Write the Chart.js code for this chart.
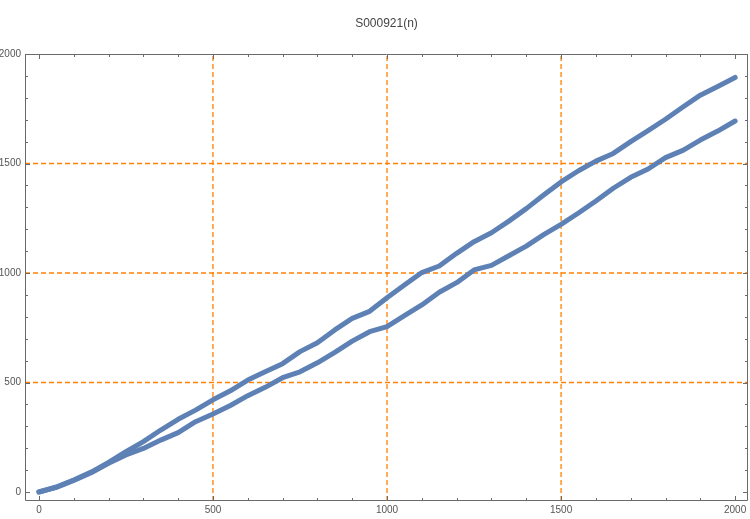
<!DOCTYPE html>
<html>
<head>
<meta charset="utf-8">
<script src="https://cdn.jsdelivr.net/npm/chart.js@4/dist/chart.umd.min.js"></script>
<style>
  html, body { margin: 0; padding: 0; background: #fff; }
  #wrap { width: 750px; height: 519px; position: relative; }
</style>
</head>
<body>
<div id="wrap"><canvas id="c" width="750" height="519"></canvas></div>
<script>
// ---- data ----
const titleText = "S000921(n)";
const nValues = [0, 50, 100, 150, 200, 250, 300, 350, 400, 450, 500, 550, 600, 650, 700, 750, 800, 850, 900, 950,
                 1000, 1050, 1100, 1150, 1200, 1250, 1300, 1350, 1400, 1450, 1500, 1550, 1600, 1650, 1700, 1750,
                 1800, 1850, 1900, 1950, 2000];
const upperBranch = [0, 23, 55, 91, 135, 184, 230, 283, 332, 374, 421, 462, 511, 549, 586, 641, 682, 740, 793, 825,
                     887, 945, 1002, 1032, 1090, 1143, 1184, 1237, 1294, 1356, 1416, 1467, 1511, 1546, 1600, 1650,
                     1702, 1758, 1812, 1852, 1893];
const lowerBranch = [0, 21, 53, 88, 131, 169, 199, 237, 271, 321, 356, 395, 440, 478, 522, 549, 590, 638, 689, 732,
                     755, 805, 854, 912, 956, 1014, 1035, 1079, 1123, 1175, 1222, 1274, 1329, 1387, 1437, 1475,
                     1527, 1560, 1607, 1648, 1694];
const xMajorTicks = [0, 500, 1000, 1500, 2000];
const yMajorTicks = [0, 500, 1000, 1500, 2000];
const xMinorTicks = [100, 200, 300, 400, 600, 700, 800, 900, 1100, 1200, 1300, 1400, 1600, 1700, 1800, 1900];
const yMinorTicks = [100, 200, 300, 400, 600, 700, 800, 900, 1100, 1200, 1300, 1400, 1600, 1700, 1800, 1900];
const gridValues = [500, 1000, 1500];

const toPoints = (ys) => nValues.map((n, i) => ({x: n, y: ys[i]}));

const BLUE = '#5e81b5';
const ORANGE = 'rgb(255,128,0)';
const FRAME = '#6a6a6a';
const FONT = 'Liberation Sans, Arial, sans-serif';

const gridPlugin = {
  id: 'orangeGrid',
  beforeDatasetsDraw(chart) {
    const {ctx, chartArea: a, scales: {x, y}} = chart;
    ctx.save();
    ctx.strokeStyle = ORANGE;
    ctx.lineWidth = 1.3;
    ctx.setLineDash([5, 3]);
    gridValues.forEach(v => {
      const px = x.getPixelForValue(v);
      const py = y.getPixelForValue(v);
      ctx.beginPath();
      ctx.moveTo(px, a.bottom); ctx.lineTo(px, a.top);
      ctx.stroke();
      ctx.beginPath();
      ctx.moveTo(a.left, py); ctx.lineTo(a.right, py);
      ctx.stroke();
    });
    ctx.restore();
  }
};

const framePlugin = {
  id: 'frame',
  afterDatasetsDraw(chart) {
    const {ctx, chartArea: a, scales: {x, y}} = chart;
    ctx.save();
    ctx.strokeStyle = FRAME;
    ctx.lineWidth = 1;
    ctx.setLineDash([]);
    ctx.beginPath();
    ctx.rect(Math.round(a.left) + 0.5, Math.round(a.top) + 0.5,
             Math.round(a.right - a.left) - 1, Math.round(a.bottom - a.top) - 1);
    ctx.stroke();
    const tick = (vals, len) => {
      vals.forEach(v => {
        const px = Math.round(x.getPixelForValue(v)) + 0.5;
        ctx.moveTo(px, a.bottom); ctx.lineTo(px, a.bottom - len);
        ctx.moveTo(px, a.top); ctx.lineTo(px, a.top + len);
      });
    };
    const ytick = (vals, len) => {
      vals.forEach(v => {
        const py = Math.round(y.getPixelForValue(v)) + 0.5;
        ctx.moveTo(a.left, py); ctx.lineTo(a.left + len, py);
        ctx.moveTo(a.right, py); ctx.lineTo(a.right - len, py);
      });
    };
    ctx.beginPath();
    tick(xMajorTicks, 5);
    tick(xMinorTicks, 3);
    ytick(yMajorTicks, 5);
    ytick(yMinorTicks, 3);
    ctx.stroke();
    ctx.restore();
  }
};

new Chart(document.getElementById('c'), {
  type: 'line',
  data: {
    datasets: [
      {data: toPoints(upperBranch), borderColor: BLUE, borderWidth: 5, pointRadius: 0,
       borderCapStyle: 'round', borderJoinStyle: 'round', tension: 0},
      {data: toPoints(lowerBranch), borderColor: BLUE, borderWidth: 5, pointRadius: 0,
       borderCapStyle: 'round', borderJoinStyle: 'round', tension: 0}
    ]
  },
  options: {
    responsive: false,
    animation: false,
    events: [],
    layout: {padding: {left: 0, right: 2, top: 0, bottom: 0}},
    plugins: {
      legend: {display: false},
      tooltip: {enabled: false},
      title: {
        display: true, text: titleText, color: '#444', fullSize: false,
        font: {family: FONT, size: 12, weight: 'normal'},
        padding: {top: 16, bottom: 23.6}
      }
    },
    scales: {
      x: {
        type: 'linear', min: -40, max: 2037,
        afterBuildTicks: s => { s.ticks = xMajorTicks.map(v => ({value: v})); },
        afterFit: s => { s.height = 18; },
        ticks: {color: '#555', padding: 3, maxRotation: 0, autoSkip: false,
                callback: v => String(v),
                font: {family: FONT, size: 10}},
        grid: {display: false, drawTicks: false},
        border: {display: false}
      },
      y: {
        type: 'linear', min: -41, max: 2000,
        afterBuildTicks: s => { s.ticks = yMajorTicks.map(v => ({value: v})); },
        afterFit: s => { s.width = 25; },
        ticks: {color: '#555', padding: 4, autoSkip: false,
                callback: v => String(v),
                font: {family: FONT, size: 10}},
        grid: {display: false, drawTicks: false},
        border: {display: false}
      }
    }
  },
  plugins: [gridPlugin, framePlugin]
});
</script>
</body>
</html>
